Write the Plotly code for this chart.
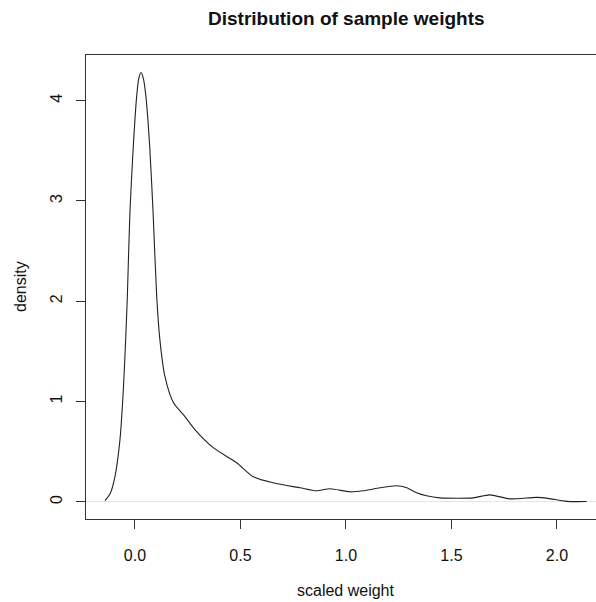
import plotly.graph_objects as go

# Density curve
weight = [-0.142, -0.118, -0.095, -0.071, -0.055, -0.044, -0.036, -0.024, -0.008,
          0.008, 0.018, 0.029, 0.040, 0.052, 0.070, 0.086, 0.103, 0.118, 0.142,
          0.182, 0.237, 0.284, 0.371, 0.482, 0.561, 0.655, 0.782, 0.861, 0.924,
          1.019, 1.082, 1.161, 1.240, 1.288, 1.335, 1.382, 1.445, 1.603, 1.682,
          1.777, 1.904, 1.957, 2.046, 2.141]
density = [0.013, 0.08, 0.25, 0.62, 1.12, 1.62, 2.05, 2.88, 3.54,
           4.04, 4.22, 4.28, 4.22, 4.04, 3.54, 2.88, 2.05, 1.62, 1.25,
           0.99, 0.85, 0.72, 0.54, 0.39, 0.25, 0.19, 0.14, 0.11, 0.13,
           0.10, 0.11, 0.14, 0.16, 0.14, 0.09, 0.06, 0.04, 0.04, 0.07,
           0.03, 0.045, 0.035, 0.005, 0.003]

x_ticks = [0.0, 0.5, 1.0, 1.5, 2.0]
x_tick_labels = ["0.0", "0.5", "1.0", "1.5", "2.0"]
y_ticks = [0, 1, 2, 3, 4]
y_tick_labels = ["0", "1", "2", "3", "4"]

FONT = "Liberation Sans, Arial, Helvetica, sans-serif"
INK = "#111111"

fig = go.Figure()
fig.add_trace(go.Scatter(x=weight, y=density, mode="lines",
                         line=dict(color="#222222", width=1.1, shape="spline", smoothing=0.7),
                         hoverinfo="skip", showlegend=False))

fig.update_layout(
    width=596, height=602,
    margin=dict(l=86, r=0, t=55, b=83),
    paper_bgcolor="white", plot_bgcolor="white",
    font=dict(family=FONT, size=16, color=INK),
    showlegend=False,
    xaxis=dict(range=[-0.232, 2.185], tickvals=x_ticks, ticktext=x_tick_labels,
               showgrid=False, zeroline=False, showline=True, mirror=True,
               linecolor="#333333", linewidth=1, ticks="outside", ticklen=9,
               tickcolor="#333333", ticklabelstandoff=13,
               tickfont=dict(size=16, color=INK)),
    yaxis=dict(range=[-0.171, 4.455], tickvals=y_ticks, ticktext=y_tick_labels,
               showgrid=False, zeroline=True, zerolinecolor="#e4e4e4", zerolinewidth=1,
               showline=True, mirror=False, linecolor="#333333", linewidth=1,
               ticks="outside", ticklen=9, tickcolor="#333333", tickangle=-90,
               ticklabelstandoff=8, tickfont=dict(size=16, color=INK)),
    annotations=[
        dict(text="<b>Distribution of sample weights</b>", xref="paper", yref="paper",
             x=(346 - 86) / 510, y=1 + (55 - 18) / 464, xanchor="center", yanchor="middle",
             showarrow=False, font=dict(size=19, color=INK)),
        dict(text="scaled weight", xref="paper", yref="paper",
             x=(346 - 86) / 510, y=-(590 - 519) / 464, xanchor="center", yanchor="middle",
             showarrow=False, font=dict(size=16, color=INK)),
        dict(text="density", xref="paper", yref="paper", textangle=-90,
             x=-(86 - 20) / 510, y=0.5, xanchor="center", yanchor="middle",
             showarrow=False, font=dict(size=16, color=INK)),
    ],
)

fig.write_html("out.html")
